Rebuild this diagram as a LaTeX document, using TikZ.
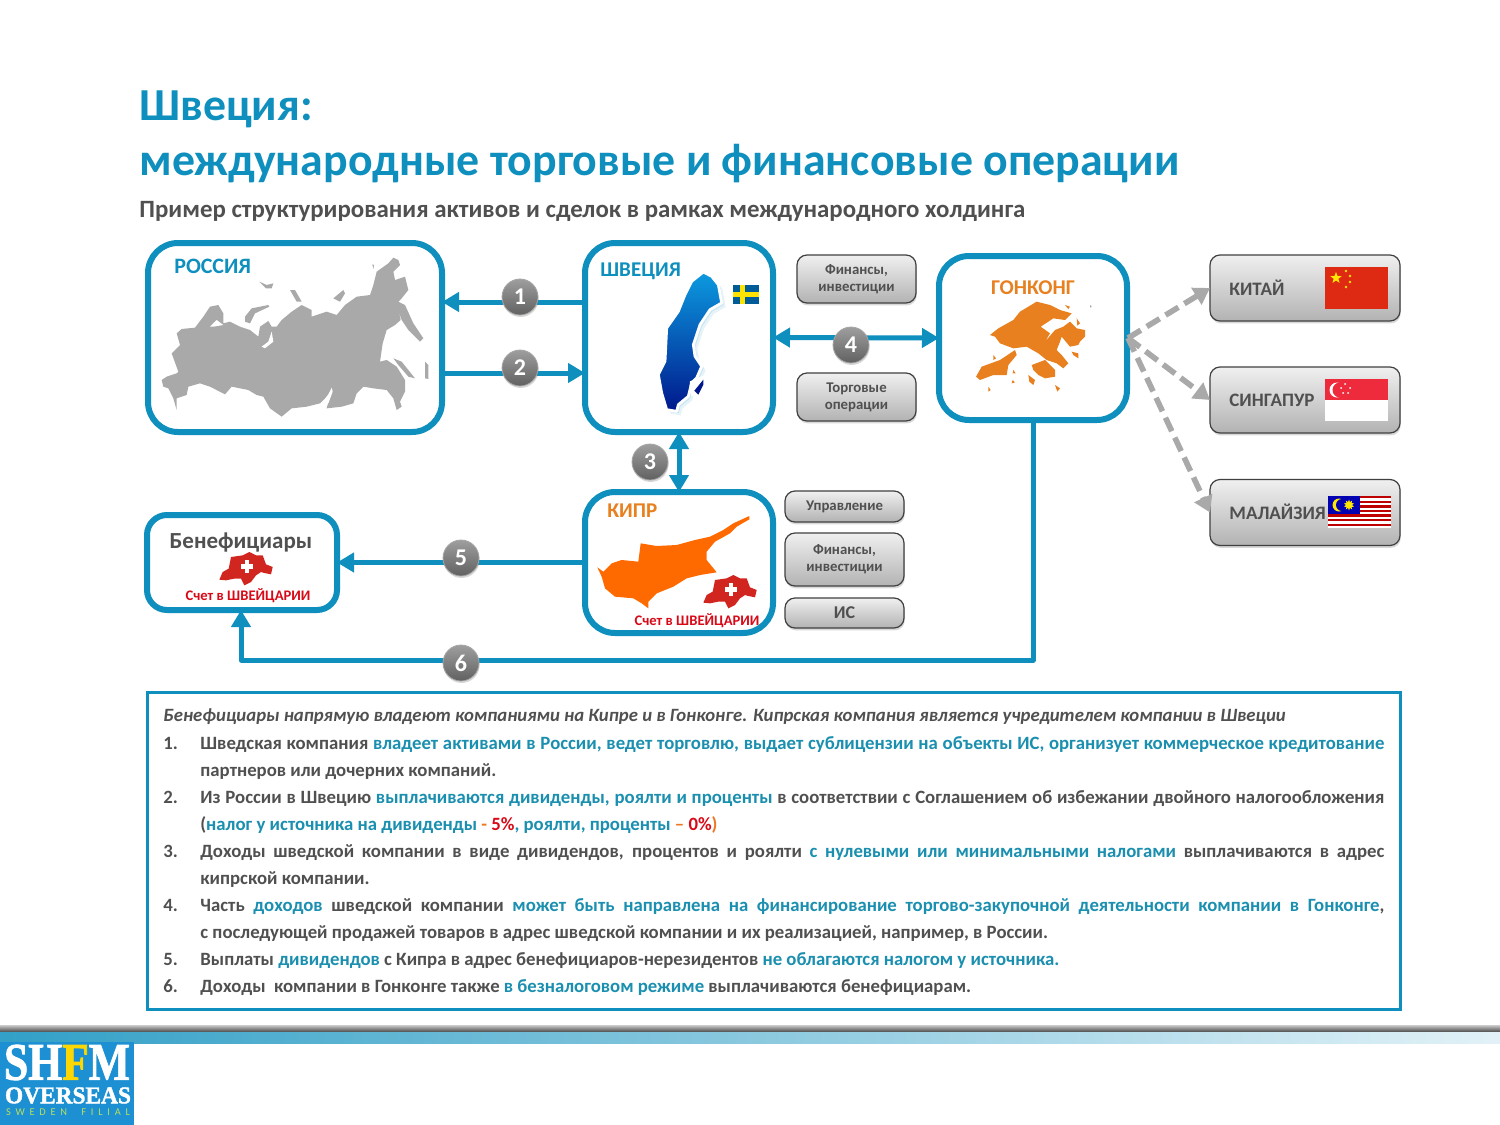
\documentclass[tikz,border=0pt]{standalone}
\usepackage{fontspec}
\usepackage{graphicx}
\setmainfont{Carlito}
\newfontfamily\logofont[BoldFeatures={FakeBold=1.6}]{Liberation Serif}
\usetikzlibrary{arrows.meta,shadows,shapes.geometric}
\definecolor{cblue}{HTML}{0E8FBD}
\definecolor{corange}{HTML}{E8801F}
\definecolor{cmap}{HTML}{FF6A00}
\definecolor{cteal}{HTML}{1A8FAF}
\definecolor{ctext}{HTML}{505050}
\definecolor{cgrey}{HTML}{A9A9A9}
\definecolor{cred}{HTML}{D80A18}
\definecolor{cswiss}{HTML}{D1261F}
\definecolor{cdash}{HTML}{EE7722}
\definecolor{cswtop}{HTML}{0C9ADF}
\definecolor{cswbot}{HTML}{00188C}
\newcommand\sz[2]{\fontsize{#1}{#2}\selectfont}
\newcommand\hl[1]{\textcolor{cteal}{#1}}
\newcommand\rd[1]{\textcolor{cred}{#1}}
\newcommand\bodyline[3]{\node[bodytext] (#1) at (200,#2) {\hbox to 592pt{#3}};}
\newcommand\plainline[3]{\node[bodytext] (#1) at (200,#2) {#3};}
\newcommand\numlabel[3]{\node[bodytext] (#1) at (163,#2) {#3};}
\newcommand\swedenpath{(160,12)--(185,25)--(205,50)--(215,105)--(180,125)--(150,170)--(130,230)--(135,265)--(155,295)--(140,330)--(125,345)--(115,385)--(85,410)--(80,430)--(50,425)--(35,375)--(25,320)--(45,280)--(50,180)--(85,130)--(105,80)--(125,40)--cycle}
\newcommand\swiss[2]{%
  \begin{scope}[shift={(#1pt,#2pt)},x=0.16667pt,y=-0.16667pt]
   \fill[cswiss] (340,278)--(350,255)--(368,245)--(375,210)--(410,205)--(430,195)--(450,205)--(470,205)--(480,232)--(500,240)--(495,262)--(475,258)--(465,255)--(450,265)--(435,285)--(415,295)--(405,275)--(385,275)--(360,280)--cycle;
   \fill[white] (416,219) rectangle (430,257);
   \fill[white] (404,231) rectangle (442,245);
  \end{scope}}
\tikzset{
 bigbox/.style={draw=cblue,line width=3pt,rounded corners=15pt,fill=white,inner sep=0pt,outer sep=0pt},
 btn/.style={draw=black!75,line width=.6pt,rounded corners=5pt,top color=black!6,bottom color=black!30,
   drop shadow={shadow xshift=.4pt,shadow yshift=-1.2pt,opacity=.3},text=ctext,
   font=\sz{7.4}{8.6}\bfseries,align=center,inner sep=0pt,outer sep=0pt},
 flowline/.style={draw=cblue,line width=2.5pt},
 fl/.style={flowline,-{Triangle[length=8.5pt,width=9.5pt]}},
 flb/.style={flowline,{Triangle[length=8.5pt,width=9.5pt]}-{Triangle[length=8.5pt,width=9.5pt]}},
 dsh/.style={draw=cgrey,line width=2.8pt,dash pattern=on 7.5pt off 3.5pt,-{Triangle[length=8pt,width=9.5pt]}},
 badge/.style={circle,minimum size=18pt,inner sep=0pt,top color=black!38,bottom color=black!62,draw=black!35,line width=.4pt,
   drop shadow={shadow xshift=.3pt,shadow yshift=-1pt,opacity=.3},text=white,font=\sz{12}{12}\bfseries},
 boxtitle/.style={font=\sz{10.5}{12}\bfseries,inner sep=0pt},
 countrylabel/.style={font=\sz{9.5}{11}\bfseries,text=ctext,inner sep=0pt,anchor=west},
 acct/.style={font=\sz{7.3}{8}\bfseries,text=cred,inner sep=0pt},
 bodytext/.style={anchor=base west,yshift=-3pt,inner sep=0pt,text=ctext,font=\sz{9.38}{10}\bfseries},
 titletext/.style={anchor=base west,inner sep=0,text=cblue,font=\sz{22.9}{24}\bfseries},
}
\begin{document}
\begin{tikzpicture}[x=0.5pt,y=-0.5pt]
\useasboundingbox (0,0) rectangle (1500,1125);
\fill[white] (0,0) rectangle (1500,1125);

% titles
\node[titletext] (t1) at (139,120) {Швеция:};
\node[titletext] (t2) at (139,175) {международные торговые и финансовые операции};
\node[anchor=base west,inner sep=0,text=ctext,font=\sz{12.44}{13}\bfseries] (t3) at (139,217) {Пример структурирования активов и сделок в рамках международного холдинга};

% big boxes
\node[bigbox,minimum width=147pt,minimum height=94.5pt] (ru) at (295,337.5) {};
\node[bigbox,minimum width=94pt,minimum height=94.5pt] (se) at (679,337.5) {};
\node[bigbox,minimum width=94pt,minimum height=82pt] (hk) at (1033,338) {};
\node[bigbox,minimum width=94pt,minimum height=70.5pt] (cy) at (679,562.5) {};
\node[bigbox,minimum width=95pt,minimum height=47.5pt,rounded corners=10pt] (bf) at (242,562.5) {};

% Russia map
\begin{scope}[shift={(80pt,-127.5pt)},x=0.16667pt,y=-0.16667pt]
 \fill[cgrey,line join=round] (5,375)--(20,365)--(50,355)--(55,350)--(35,295)--(60,270)--(50,235)--(65,222)--(105,218)--(130,185)--(150,155)--(175,150)--(190,175)--(190,205)--(210,200)--(240,215)--(270,225)--(295,245)--(300,215)--(325,198)--(335,215)--(350,215)--(365,195)--(395,170)--(425,150)--(455,165)--(455,185)--(500,170)--(530,180)--(555,150)--(590,125)--(630,120)--(640,90)--(650,50)--(685,25)--(700,8)--(715,15)--(720,30)--(700,50)--(705,75)--(735,65)--(745,105)--(725,130)--(715,140)--(735,150)--(760,205)--(790,250)--(780,260)--(745,225)--(725,195)--(716,170)--(722,195)--(705,210)--(680,225)--(668,265)--(660,320)--(680,315)--(710,335)--(735,375)--(735,410)--(720,440)--(725,455)--(710,465)--(700,430)--(680,405)--(640,400)--(610,395)--(590,415)--(580,445)--(545,455)--(500,460)--(515,405)--(495,430)--(480,445)--(440,455)--(395,460)--(365,485)--(330,460)--(310,425)--(290,420)--(265,405)--(215,395)--(195,418)--(150,395)--(120,385)--(85,395)--(80,420)--(50,430)--(50,465)--(40,430)--(25,400)--(10,395)--cycle;
 \fill[cgrey] (700,310)--(725,320)--(765,370)--(745,365)--(715,330)--cycle;
 \fill[cgrey] (795,320)--(805,330)--(805,372)--(795,370)--cycle;
 \fill[cgrey] (255,200)--(255,185)--(275,160)--(325,150)--(328,155)--(285,175)--(270,205)--cycle;
 \fill[cgrey] (298,80)--(320,90)--(340,85)--(335,100)--(318,100)--cycle;
 \fill[cgrey] (390,105)--(405,105)--(425,140)--(410,140)--cycle;
 \fill[cgrey] (520,130)--(550,105)--(555,115)--(540,140)--cycle;
 \fill[cgrey] (637,28)--(642,30)--(640,42)--cycle;
 \fill[white] (515,398)--(518,410)--(505,445)--(490,450)--cycle;
 \fill[white] (305,275)--(325,260)--(335,230)--(340,260)--(315,280)--cycle;
 \fill[white] (150,215)--(170,195)--(190,210)--(160,215)--cycle;
\end{scope}

% Sweden map
\begin{scope}[shift={(325pt,-134pt)},x=0.16667pt,y=-0.16667pt]
 \begin{scope}[shift={(2pt,-2pt)}]
  \fill[cblue,opacity=.10] \swedenpath;
 \end{scope}
 \begin{scope}[shift={(1pt,-1pt)}]
  \fill[cblue,opacity=.12] \swedenpath;
 \end{scope}
 \path[draw=white,line width=1.4pt,line join=round,top color=cswtop,bottom color=cswbot] \swedenpath;
 \fill[white] (120,340)--(162,322)--(168,345)--(150,380)--(125,385)--(118,365)--cycle;
 \fill[cswbot] (133,368)--(160,335)--(160,350)--(145,380)--cycle;
 % flag
 \fill[blue!40!cyan!60!black] (248,52) rectangle (328,108);
 \fill[yellow!85!orange] (270,52) rectangle (285,108);
 \fill[yellow!85!orange] (248,72) rectangle (328,88);
\end{scope}

% Hong Kong map
\begin{scope}[shift={(485pt,-147.5pt)},x=0.16667pt,y=-0.16667pt]
 \fill[corange] (60,120)--(85,100)--(130,75)--(150,50)--(200,20)--(240,30)--(270,45)--(305,55)--(285,75)--(250,70)--(212,95)--(240,115)--(225,140)--(255,105)--(280,95)--(300,80)--(320,100)--(345,105)--(345,125)--(330,140)--(325,150)--(300,155)--(275,125)--(270,140)--(260,165)--(275,180)--(295,205)--(280,220)--(260,205)--(230,195)--(205,175)--(170,155)--(130,160)--(90,145)--(75,125)--cycle;
 \fill[corange] (18,245)--(35,215)--(90,195)--(135,165)--(140,180)--(115,210)--(110,240)--(70,240)--(30,255)--cycle;
 \fill[corange] (185,210)--(225,195)--(255,225)--(255,245)--(225,250)--(205,240)--(190,225)--cycle;
 \fill[corange] (175,240)--(195,255)--(190,270)--(178,260)--cycle;
 \fill[corange] (255,270)--(270,280)--(262,290)--cycle;
 \fill[corange] (70,180)--(78,190)--(70,195)--cycle;
 \fill[corange] (130,225)--(137,235)--(128,235)--cycle;
 \fill[corange] (55,275)--(62,285)--(55,290)--cycle;
 \fill[corange] (285,30)--(300,35)--(295,42)--cycle;
 \fill[corange] (320,70)--(330,85)--(322,92)--cycle;
 \fill[corange] (305,170)--(325,175)--(325,190)--(310,180)--cycle;
 \fill[corange] (128,255)--(135,262)--(125,265)--cycle;
 \fill[cgrey] (360,30)--(365,35)--(360,38)--cycle;
\end{scope}

% Cyprus map
\begin{scope}[shift={(295pt,-255pt)},x=0.16667pt,y=-0.16667pt]
 \fill[cmap] (22,172)--(40,185)--(65,160)--(95,150)--(145,155)--(152,100)--(200,108)--(260,105)--(315,90)--(360,80)--(400,60)--(430,40)--(478,18)--(478,28)--(440,50)--(420,70)--(375,95)--(350,125)--(350,150)--(380,187)--(330,195)--(290,205)--(250,230)--(200,250)--(175,275)--(175,295)--(155,280)--(130,265)--(75,260)--(45,235)--(35,200)--cycle;
\end{scope}
\swiss{295}{-255}
\swiss{53}{-243.5}

% box labels
\node[boxtitle,text=cblue,anchor=west,font=\sz{11}{12}\bfseries] (lru) at (174,266) {РОССИЯ};
\node[boxtitle,text=cblue,anchor=west] (lse) at (600,271) {ШВЕЦИЯ};
\node[boxtitle,text=corange] (lhk) at (1033,288) {ГОНКОНГ};
\node[boxtitle,text=corange,anchor=west,font=\sz{10.5}{12}\bfseries] (lcy) at (607,511) {КИПР};
\node[inner sep=0,text=ctext,font=\sz{11.5}{12}\bfseries] (lbf) at (241,542) {Бенефициары};
\node[acct] (a1) at (248,596) {Счет в ШВЕЙЦАРИИ};
\node[acct] (a2) at (697,620.5) {Счет в ШВЕЙЦАРИИ};

% buttons
\node[btn,minimum width=59.5pt,minimum height=24pt] (b1) at (856.5,279) {Финансы,\\инвестиции};
\node[btn,minimum width=59.5pt,minimum height=24pt] (b2) at (856.5,397) {Торговые\\операции};
\node[btn,minimum width=59.5pt,minimum height=15.5pt] (b3) at (844.5,506.5) {Управление};
\node[btn,minimum width=59.5pt,minimum height=26.5pt] (b4) at (844.5,559.5) {Финансы,\\инвестиции};
\node[btn,minimum width=59.5pt,minimum height=15pt,font=\sz{9}{10}\bfseries] (b5) at (844.5,613) {ИС};
\node[btn,minimum width=95pt,minimum height=33pt] (kit) at (1305,288) {};
\node[btn,minimum width=95pt,minimum height=33pt] (sin) at (1305,400) {};
\node[btn,minimum width=95pt,minimum height=33pt] (mal) at (1305,512.5) {};
\node[countrylabel] (lk) at (1229,288) {КИТАЙ};
\node[countrylabel] (ls) at (1229,400) {СИНГАПУР};
\node[countrylabel] (lm) at (1229,512) {МАЛАЙЗИЯ};

% China flag
\definecolor{cchina}{HTML}{DE2A12}
\definecolor{csing}{HTML}{EE2B3C}
\fill[cchina] (1325,267) rectangle (1388,309);
\node[star,star points=5,star point ratio=2.4,fill=yellow!90!orange,inner sep=0,minimum size=6pt] (cs0) at (1336,278) {};
\foreach \p in {(1346,271),(1350,276),(1350,282),(1346,287)} \fill[yellow!90!orange] \p circle (1.3);
% Singapore flag
\fill[csing] (1325,379) rectangle (1388,400);
\fill[white] (1325,400) rectangle (1388,421);
\fill[white] (1337,390) circle (7.5);
\fill[csing] (1340,390) circle (7.5);
\foreach \p in {(1345,384),(1350,388),(1348,393),(1343,393),(1341,388)} \fill[white] \p circle (1);
% Malaysia flag
\fill[white] (1328,496) rectangle (1391,528);
\foreach \i in {0,...,6} \fill[red!75!black] (1328,496+\i*4.6) rectangle (1391,496+\i*4.6+2.3);
\fill[blue!70!black] (1328,496) rectangle (1360,514);
\fill[yellow!90!orange] (1339,505) circle (6.5);
\fill[blue!70!black] (1342,505) circle (6);
\node[star,star points=10,star point ratio=1.8,fill=yellow!90!orange,inner sep=0,minimum size=5.5pt] (ms0) at (1349,505) {};

% connectors
\coordinate (y1) at (0,302);
\coordinate (y2) at (0,373);
\coordinate (x6) at (1033,660);
\coordinate (xb) at (241,660);
\draw[fl] (se.west |- y1) -- (ru.east |- y1);
\draw[fl] (ru.east |- y2) -- (se.west |- y2);
\draw[flb] (se.south) -- (cy.north);
\draw[flb] (se.east) -- (hk.west);
\draw[fl] (cy.west) -- (cy.west -| bf.east);
\draw[fl,line join=round] (hk.south) -- (x6) -- (xb) -- (xb |- bf.south);
\coordinate (hks) at (1128,338);
\draw[dsh] (hks) -- (kit.west);
\draw[dsh] (hks) -- (sin.west);
\draw[dsh] (hks) -- (mal.west);

% badges
\node[badge] (n1) at (520,297) {1};
\node[badge] (n2) at (520,368) {2};
\node[badge] (n3) at (650,462) {3};
\node[badge] (n4) at (851,345) {4};
\node[badge] (n5) at (461,558) {5};
\node[badge] (n6) at (461,663) {6};

% text box
\node[draw=cblue,line width=1.5pt,fill=white,minimum width=626.5pt,minimum height=158.5pt,inner sep=0] (tb) at (773.5,850.5) {};
\node[bodytext] (h0) at (163,715) {\itshape Бенефициары напрямую владеют компаниями на Кипре и в Гонконге. Кипрская компания является учредителем компании в Швеции};
\numlabel{m1}{743}{1.}
\numlabel{m2}{797}{2.}
\numlabel{m3}{851}{3.}
\numlabel{m4}{905}{4.}
\numlabel{m5}{959}{5.}
\numlabel{m6}{986}{6.}
\bodyline{l1}{743}{Шведская компания \hl{владеет активами в России, ведет торговлю, выдает сублицензии на объекты ИС, организует коммерческое кредитование}}
\plainline{l2}{770}{партнеров или дочерних компаний.}
\bodyline{l3}{797}{Из России в Швецию \hl{выплачиваются дивиденды, роялти и проценты} в соответствии с Соглашением об избежании двойного налогообложения}
\plainline{l4}{824}{(\hl{налог у источника на дивиденды} \textcolor{cdash}{-} \rd{5\%}\hl{, роялти, проценты} \textcolor{cdash}{–} \rd{0\%}\textcolor{cdash}{)}}
\bodyline{l5}{851}{Доходы шведской компании в виде дивидендов, процентов и роялти \hl{с нулевыми или минимальными налогами} выплачиваются в адрес}
\plainline{l6}{878}{кипрской компании.}
\bodyline{l7}{905}{Часть \hl{доходов} шведской компании \hl{может быть направлена на финансирование торгово-закупочной деятельности компании в Гонконге},}
\plainline{l8}{932}{с последующей продажей товаров в адрес шведской компании и их реализацией, например, в России.}
\plainline{l9}{959}{Выплаты \hl{дивидендов} с Кипра в адрес бенефициаров-нерезидентов \hl{не облагаются налогом у источника.}}
\plainline{l10}{986}{Доходы\ \ компании в Гонконге также \hl{в безналоговом режиме} выплачиваются бенефициарам.}

% footer
\path[top color=black!20,bottom color=black!72] (0,1025) rectangle (1500,1032);
\path[left color=cblue!85,right color=cblue!12] (0,1032) rectangle (1500,1043);
\definecolor{clogo}{HTML}{1C90D2}
\fill[clogo] (0,1042) rectangle (134,1125);
\node[inner sep=0,text=white,font=\logofont\bfseries] (lg1) at (67,1062.5) {\resizebox{63pt}{17.5pt}{SH\textcolor{yellow!75!orange}{F}M}};
\node[inner sep=0,text=white,font=\logofont\bfseries] (lg2) at (68,1095.5) {\resizebox{63pt}{8pt}{OVERSEAS}};
\node[inner sep=0,text=yellow!60!green!70!white,font=\sz{5.2}{6}] (lg3) at (68,1112) {\hbox to 62pt{S\hfil W\hfil E\hfil D\hfil E\hfil N\hfil\hfil\hfil F\hfil I\hfil L\hfil I\hfil A\hfil L}};
\end{tikzpicture}
\end{document}
